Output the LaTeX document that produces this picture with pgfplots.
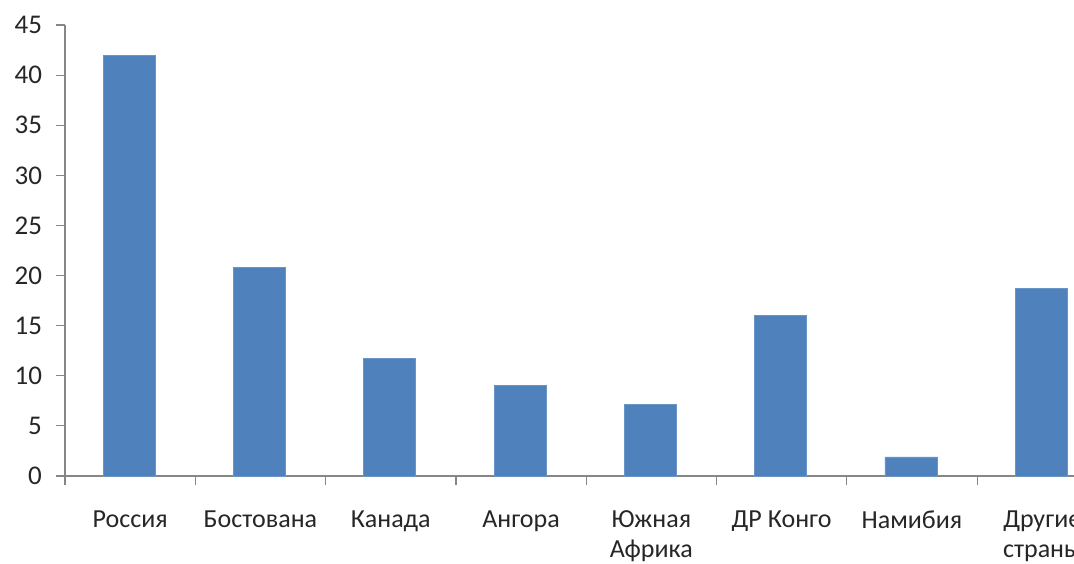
\documentclass[border=0pt]{standalone}
\usepackage{pgfplots}
\pgfplotsset{compat=1.18}
\usepackage{fontspec}
\setmainfont{Carlito}
\definecolor{barblue}{HTML}{4F81BD}
\definecolor{axgray}{HTML}{868686}
\begin{document}
\begin{tikzpicture}
\path[use as bounding box, clip] (-32.5pt,-43.5pt) rectangle (504.5pt,238pt);
\begin{axis}[
  at={(0,0)}, anchor=south west,
  scale only axis,
  width=521.2pt, height=225.5pt,
  xmin=-0.5, xmax=7.5, ymin=0, ymax=45,
  axis lines*=left,
  axis line style={axgray, line width=0.6pt},
  every tick/.style={axgray, line width=0.6pt},
  tick align=outside,
  xtick={0,...,7},
  xticklabels={Россия,Бостована,Канада,Ангора,{Южная\\Африка},ДР Конго,Намибия,{Другие\\страны}},
  xticklabel style={align=center, text=black!85, font=\fontsize{13}{15}\selectfont, anchor=north, yshift=-9.5pt},
  major x tick style={draw=none},
  minor xtick={-0.5,0.5,...,7.5},
  minor tick length=4.5pt,
  ytick={0,5,...,45},
  major tick length=4.5pt,
  yticklabel style={text=black!85, font=\fontsize{13.5}{15}\selectfont, xshift=-3.5pt},
  /pgf/number format/assume math mode=true,
  ybar, bar width=26pt, bar shift=-0.5pt,
]
\addplot[fill=barblue, draw=barblue!85!white] coordinates {
  (0,42) (1,20.8) (2,11.7) (3,9) (4,7.1) (5,16) (6,1.9) (7,18.75)
};
\end{axis}
\end{tikzpicture}
\end{document}
